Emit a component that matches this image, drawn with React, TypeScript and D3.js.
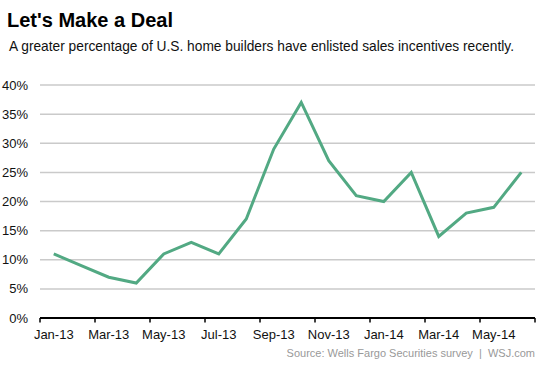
import React from 'react';
import * as d3 from 'd3';

const months = [
    'Jan-13', 'Feb-13', 'Mar-13', 'Apr-13', 'May-13', 'Jun-13', 'Jul-13', 'Aug-13', 'Sep-13',
    'Oct-13', 'Nov-13', 'Dec-13', 'Jan-14', 'Feb-14', 'Mar-14', 'Apr-14', 'May-14', 'Jun-14'
];
const incentives = [11, 9, 7, 6, 11, 13, 11, 17, 29, 37, 27, 21, 20, 25, 14, 18, 19, 25];
const yTicks = [0, 5, 10, 15, 20, 25, 30, 35, 40];

const title = "Let's Make a Deal";
const subtitle = 'A greater percentage of U.S. home builders have enlisted sales incentives recently.';
const source = 'Source: Wells Fargo Securities survey  |  WSJ.com';

const W = 553;
const H = 369;
const margin = { top: 85, right: 18, bottom: 51, left: 40 };
const font = '"Liberation Sans", Arial, sans-serif';

export default function App() {
    const scale_x = d3.scaleBand<string>()
        .domain(months)
        .range([margin.left, W - margin.right])
        .padding(0);
    const bw = scale_x.bandwidth();
    const cx = (m: string) => (scale_x(m) ?? 0) + bw / 2;

    const scale_y = d3.scaleLinear()
        .domain([0, 40])
        .range([H - margin.bottom, margin.top]);

    const line = d3.line<number>()
        .x((_, i) => cx(months[i]))
        .y((d) => scale_y(d));

    // tick marks sit on the boundaries between every other month
    const tickXs = months
        .filter((_, i) => i % 2 === 0)
        .map((m) => scale_x(m) ?? 0)
        .concat([scale_x.range()[1]]);

    const y0 = scale_y(0);

    return (
        <svg
            width={W}
            height={H}
            style={{ position: 'absolute', left: 0, top: 0, background: '#fff' }}
            fontFamily={font}
        >
            <text x={7} y={27} fontSize={20} fontWeight="bold" fill="#000">{title}</text>
            <text x={9} y={51} fontSize={13.75} fill="#111">{subtitle}</text>

            {/* grid */}
            {yTicks.filter((t) => t > 0).map((t) => (
                <line
                    key={t}
                    x1={margin.left}
                    x2={W - margin.right}
                    y1={scale_y(t)}
                    y2={scale_y(t)}
                    stroke="#cacaca"
                    strokeWidth={1.5}
                />
            ))}

            {/* y labels */}
            {yTicks.map((t) => (
                <text
                    key={t}
                    x={28}
                    y={scale_y(t) + 4.5}
                    fontSize={13}
                    textAnchor="end"
                    fill="#111"
                >
                    {`${t}%`}
                </text>
            ))}

            {/* x axis */}
            <line x1={margin.left} x2={W - margin.right} y1={y0} y2={y0} stroke="#000" strokeWidth={2} />
            {tickXs.map((x, i) => (
                <line key={i} x1={x} x2={x} y1={y0} y2={y0 + 4.5} stroke="#000" strokeWidth={1.5} />
            ))}
            {months.filter((_, i) => i % 2 === 0).map((m) => (
                <text key={m} x={cx(m)} y={339} fontSize={13} textAnchor="middle" fill="#111">{m}</text>
            ))}

            <path
                d={line(incentives) ?? ''}
                fill="none"
                stroke="#52a983"
                strokeWidth={3}
                strokeLinejoin="miter"
            />

            <text x={W - margin.right} y={357} fontSize={11} textAnchor="end" fill="#999" style={{ whiteSpace: 'pre' }}>
                {source}
            </text>
        </svg>
    );
}
